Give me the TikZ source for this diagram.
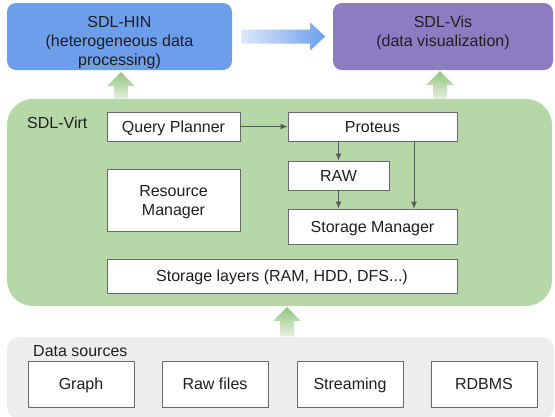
\documentclass[tikz,border=0pt]{standalone}
\usepackage{fontspec}
\setmainfont{Liberation Sans}
\usetikzlibrary{arrows.meta,calc}
\definecolor{hinblue}{HTML}{6D9EEB}
\definecolor{vispurple}{HTML}{8E7CC3}
\definecolor{virtgreen}{HTML}{B6D7A8}
\definecolor{srcgray}{HTML}{EEEEEE}
\definecolor{edge}{HTML}{6A6A6A}
\definecolor{ink}{HTML}{595959}
\definecolor{liftdark}{HTML}{93C47D}
\definecolor{liftpale}{HTML}{E6F1E1}
\definecolor{flowpale}{HTML}{DDE8FA}
\tikzset{
  every node/.style={font=\fontsize{16}{19}\selectfont, text=black!88, align=center, inner sep=0pt},
  layer/.style={rounded corners=#1},
  part/.style={draw=edge, fill=white, line width=0.9pt, text depth=0pt},
  link/.style={draw=ink, line width=0.9pt, -{Latex[length=7pt,width=6pt]}},
}
\def\lift#1#2{\shade[top color=liftdark,bottom color=liftpale] (#1) -- ++(14,14) -- ++(-7,0) -- ++(0,#2) -- ++(-14,0) -- ++(0,-#2) -- ++(-7,0) -- cycle;}

\begin{document}
\begin{tikzpicture}[x=1pt,y=-1pt]
\useasboundingbox (0,0) rectangle (555,416);
% top layer
\node[layer=9pt, fill=hinblue, minimum width=225pt, minimum height=67pt] (hin) at (119.5,36.5) {};
\node[anchor=base] (hintxt) at (119.5,65) {SDL-HIN\\(heterogeneous data\\processing)};
\node[layer=9pt, fill=vispurple, minimum width=220pt, minimum height=67pt] (vis) at (443,36.5) {};
\node[anchor=base] (vistxt) at (443,46) {SDL-Vis\\(data visualization)};
\shade[left color=flowpale, right color=hinblue] ($(hin.east)+(9,-7)$) -- ++(69,0) -- ++(0,-7) -- ++(15,14) -- ++(-15,14) -- ++(0,-7) -- ++(-69,0) -- cycle;
% SDL-Virt
\node[layer=26pt, fill=virtgreen, minimum width=545pt, minimum height=207pt] (virt) at (279.5,202.5) {};
\node[anchor=west] (virtlbl) at (27,123) {SDL-Virt};
\node[part, minimum width=133pt, minimum height=29pt] (qp) at (173.5,126.5) {Query Planner};
\node[part, minimum width=169pt, minimum height=29pt] (proteus) at (372.5,126.5) {Proteus};
\node[part, minimum width=101pt, minimum height=29pt] (raw) at (338.5,175.5) {RAW};
\node[part, minimum width=169pt, minimum height=35pt] (sm) at (372.5,226.5) {Storage Manager};
\node[part, minimum width=133pt, minimum height=62pt] (rm) at (173.5,200) {Resource\\Manager};
\node[part, minimum width=350pt, minimum height=34pt] (sl) at (282,276) {Storage layers (RAM, HDD, DFS...)};
\draw[link] (qp) -- (proteus);
\draw[link] (raw.north |- proteus.south) -- (raw.north);
\draw[link] (raw.south) -- (raw.south |- sm.north);
\draw[link] ([xshift=41.5pt]proteus.south) -- ([xshift=41.5pt]sm.north);
\lift{$(hin.south)+(1.5,2)$}{13}
\lift{$(vis.south)+(-3,1)$}{14}
% data sources
\node[layer=12pt, fill=srcgray, minimum width=547pt, minimum height=82pt] (src) at (280.5,378) {};
\node[anchor=west] (srclbl) at (33,351) {Data sources};
\node[part, minimum width=106pt, minimum height=46pt] (graph) at (81,384) {Graph};
\node[part, minimum width=106pt, minimum height=46pt] (rawfiles) at (215,384) {Raw files};
\node[part, minimum width=106pt, minimum height=46pt] (streaming) at (350,384) {Streaming};
\node[part, minimum width=106pt, minimum height=46pt] (rdbms) at (484,384) {RDBMS};
\lift{$(virt.south)+(7.5,1)$}{15}
\end{tikzpicture}
\end{document}
